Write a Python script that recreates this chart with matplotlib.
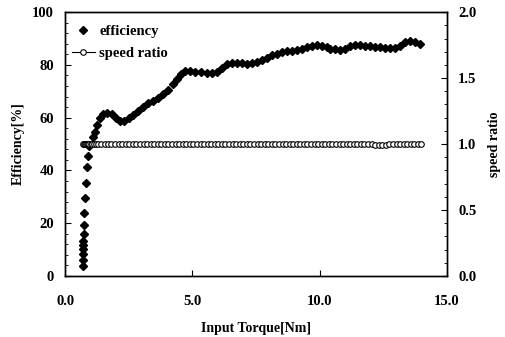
import matplotlib
matplotlib.use('Agg')
import matplotlib.pyplot as plt
from matplotlib.ticker import MultipleLocator, FormatStrFormatter

plt.rcParams['font.family'] = ['Liberation Serif', 'DejaVu Serif']
plt.rcParams['font.weight'] = 'bold'

# 입력 토크 [Nm] (효율 측정점)
torque = [0.70, 0.70, 0.69, 0.70, 0.71, 0.72, 0.73, 0.74, 0.76, 0.78, 0.80, 0.84, 0.88,
          0.95, 1.09, 1.18, 1.27, 1.37, 1.50, 1.66, 1.83, 2.00, 2.16, 2.33, 2.49,
          2.68, 2.88, 3.07, 3.27, 3.47, 3.66, 3.86, 4.06, 4.23, 4.39, 4.54, 4.71,
          4.91, 5.10, 5.33, 5.56, 5.76, 5.96, 6.15, 6.35, 6.54, 6.74, 6.94, 7.13,
          7.33, 7.53, 7.72, 7.92, 8.12, 8.31, 8.51, 8.70, 8.90, 9.10, 9.29, 9.49,
          9.69, 9.88, 10.08, 10.27, 10.40, 10.60, 10.80, 10.99, 11.19, 11.39, 11.58,
          11.78, 11.97, 12.17, 12.37, 12.56, 12.76, 12.96, 13.15, 13.35, 13.55,
          13.74, 13.94]

# 효율 [%]
efficiency = [3.8, 6.1, 8.2, 10.2, 11.7, 13.4, 15.9, 19.4, 24.0, 29.4, 35.3, 41.2, 45.6,
              49.2, 52.5, 54.7, 57.2, 59.7, 61.3, 61.9, 61.4, 60.0, 58.8, 58.7, 59.7,
              61.2, 62.6, 64.1, 65.4, 66.4, 67.5, 68.8, 70.5, 72.6, 74.6, 76.4, 77.7,
              77.8, 77.4, 77.2, 77.0, 76.8, 77.4, 79.0, 80.2, 80.6, 80.6, 80.6, 80.4,
              80.6, 81.0, 81.8, 82.8, 83.7, 84.3, 85.0, 85.2, 85.4, 85.6, 86.0, 86.6,
              87.2, 87.5, 87.2, 86.9, 86.2, 85.9, 85.6, 86.2, 87.1, 87.5, 87.5,
              87.2, 87.1, 86.9, 86.7, 86.5, 86.3, 86.5, 87.2, 88.8, 89.0,
              88.5, 88.1]

# 입력 토크 [Nm] (속도비 측정점)
torque_sr = [0.70, 0.74, 0.78, 0.82, 0.86, 0.90, 0.95, 1.00, 1.06, 1.12, 1.20, 1.30,
             1.42, 1.55, 1.68, 1.82, 1.96, 2.10, 2.24, 2.38, 2.52, 2.66, 2.80, 2.94,
             3.08, 3.22, 3.36, 3.50, 3.64, 3.78, 3.92, 4.06, 4.20, 4.34, 4.48, 4.62,
             4.76, 4.90, 5.04, 5.18, 5.32, 5.46, 5.60, 5.74, 5.88, 6.02, 6.16, 6.30,
             6.44, 6.58, 6.72, 6.86, 7.00, 7.14, 7.28, 7.42, 7.56, 7.70, 7.84, 7.98,
             8.12, 8.26, 8.40, 8.54, 8.68, 8.82, 8.96, 9.10, 9.24, 9.38, 9.52, 9.66,
             9.80, 9.94, 10.08, 10.22, 10.36, 10.50, 10.64, 10.78, 10.92, 11.06, 11.20,
             11.34, 11.48, 11.62, 11.76, 11.90, 12.04, 12.18, 12.32, 12.46, 12.60,
             12.74, 12.88, 13.02, 13.16, 13.30, 13.44, 13.58, 13.72, 13.86, 14.00]

# 속도비
speed_ratio = [1.0, 1.0, 1.0, 1.0, 1.0, 1.0, 1.0, 1.0, 1.0, 1.0, 1.0, 1.0,
               1.0, 1.0, 1.0, 1.0, 1.0, 1.0, 1.0, 1.0, 1.0, 1.0, 1.0, 1.0,
               1.0, 1.0, 1.0, 1.0, 1.0, 1.0, 1.0, 1.0, 1.0, 1.0, 1.0, 1.0,
               1.0, 1.0, 1.0, 1.0, 1.0, 1.0, 1.0, 1.0, 1.0, 1.0, 1.0, 1.0,
               1.0, 1.0, 1.0, 1.0, 1.0, 1.0, 1.0, 1.0, 1.0, 1.0, 1.0, 1.0,
               1.0, 1.0, 1.0, 1.0, 1.0, 1.0, 1.0, 1.0, 1.0, 1.0, 1.0, 1.0,
               1.0, 1.0, 1.0, 1.0, 1.0, 1.0, 1.0, 1.0, 1.0, 1.0, 1.0,
               1.0, 1.0, 1.0, 1.0, 1.0, 1.0, 0.99, 0.99, 0.99, 0.99,
               1.0, 1.0, 1.0, 1.0, 1.0, 1.0, 1.0, 1.0, 1.0, 1.0]

fig = plt.figure(figsize=(5.05, 3.37), dpi=100)
ax = fig.add_axes([0.129, 0.181, 0.756, 0.783])
ax2 = ax.twinx()

l1, = ax.plot(torque, efficiency, 'D', color='black', markersize=3.8, linestyle='none')
l2, = ax2.plot(torque_sr, speed_ratio, '-o', color='black', markerfacecolor='white',
               markeredgecolor='black', markersize=4, markeredgewidth=0.8, linewidth=0.8)

ax.set_xlim(0, 15)
ax.set_ylim(0, 100)
ax2.set_ylim(0, 2.0)

ax.xaxis.set_major_locator(MultipleLocator(5))
ax.xaxis.set_major_formatter(FormatStrFormatter('%.1f'))
ax.yaxis.set_major_locator(MultipleLocator(20))
ax.yaxis.set_minor_locator(MultipleLocator(4))
ax2.yaxis.set_major_locator(MultipleLocator(0.5))
ax2.yaxis.set_minor_locator(MultipleLocator(0.1))
ax2.yaxis.set_major_formatter(FormatStrFormatter('%.1f'))

ax.tick_params(axis='x', which='major', direction='in', length=4, labelsize=10.5, pad=14)
ax.tick_params(axis='y', which='major', direction='in', length=4, labelsize=10.5, pad=8)
ax.tick_params(axis='y', which='minor', direction='in', length=2)
ax2.tick_params(axis='y', which='major', direction='in', length=4, labelsize=10.5, pad=8)
ax2.tick_params(axis='y', which='minor', direction='in', length=2)

for a in (ax, ax2):
    for s in a.spines.values():
        s.set_linewidth(1.0)

ax.set_xlabel('Input Torque[Nm]', fontsize=10, fontweight='bold', labelpad=10)
ax.set_ylabel('Efficiency[%]', fontsize=10, fontweight='bold', labelpad=5)
ax2.set_ylabel('speed ratio', fontsize=10, fontweight='bold', labelpad=8)

ax.legend([l1, l2], ['efficiency', 'speed ratio'], loc='upper left', frameon=False,
          fontsize=10.5, handlelength=1.6, handletextpad=0.3, labelspacing=0.6,
          bbox_to_anchor=(-0.01, 0.99), borderaxespad=0.3)

plt.savefig('out.png', dpi=100)
